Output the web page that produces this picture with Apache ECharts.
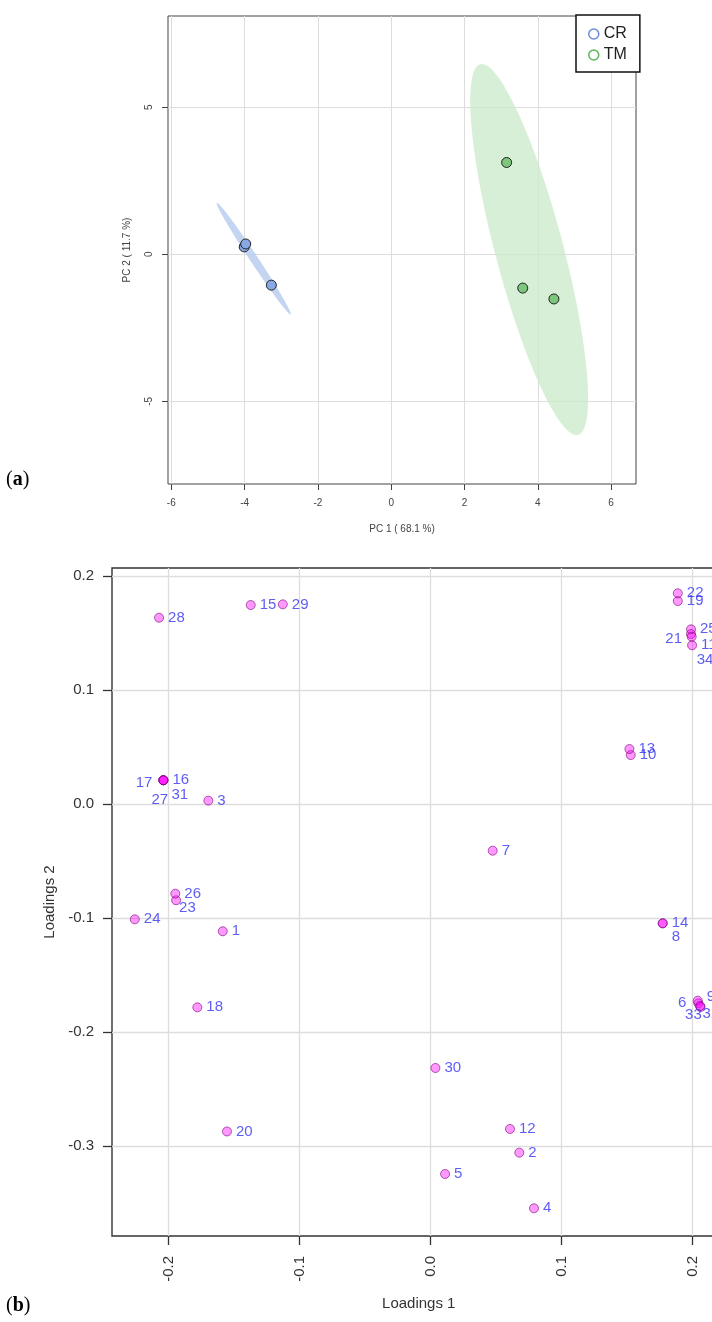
<!DOCTYPE html>
<html>
<head>
<meta charset="utf-8">
<script src="https://cdn.jsdelivr.net/npm/echarts@6/dist/echarts.min.js"></script>
<style>html,body{margin:0;padding:0;background:#fff}#c{width:712px;height:1322px}</style>
</head>
<body>
<div id="c"></div>
<script>
// ---------- (a) PCA score plot ----------
const crPC1 = [-4.01, -3.97, -3.27];
const crPC2 = [0.25, 0.35, -1.05];
const tmPC1 = [3.15, 3.59, 4.44];
const tmPC2 = [3.12, -1.15, -1.52];
const crEllipseCenter = [-3.75, -0.15];
const crEllipseAxisA = [1.01, -1.90];
const crEllipseAxisB = [0.09, 0.075];
const tmEllipseCenter = [3.765, 0.16];
const tmEllipseAxisA = [1.335, -6.30];
const tmEllipseAxisB = [0.897, 0.296];
const pcXTicks = [-6, -4, -2, 0, 2, 4, 6];
const pcYTicks = [-5, 0, 5];
const groupNames = ['CR', 'TM'];

// ---------- (b) Loadings plot ----------
const loadingIds = [1,2,3,4,5,6,7,8,9,10,11,12,13,14,15,16,17,18,19,20,21,22,23,24,25,26,27,28,29,30,31,32,33,34];
const loading1 = [-0.1585, 0.0677, -0.1695, 0.0789, 0.0111, 0.2043, 0.0474, 0.1771, 0.2038, 0.1527,
                  0.1995, 0.0606, 0.1517, 0.1771, -0.1372, -0.2038, -0.2038, -0.1779, 0.1886, -0.1553,
                  0.1987, 0.1886, -0.1941, -0.2256, 0.1987, -0.1947, -0.2038, -0.2071, -0.1127, 0.0037,
                  -0.2038, 0.2060, 0.2056, 0.1992];
const loading2 = [-0.1114, -0.3056, 0.0032, -0.3544, -0.3243, -0.1746, -0.0407, -0.1044, -0.1723, 0.0432,
                  0.1395, -0.2848, 0.0485, -0.1044, 0.1748, 0.0211, 0.0211, -0.1781, 0.1783, -0.2870,
                  0.1494, 0.1851, -0.0842, -0.1009, 0.1535, -0.0784, 0.0211, 0.1637, 0.1754, -0.2313,
                  0.0211, -0.1778, -0.1769, 0.1470];
const loadXTicks = [-0.2, -0.1, 0.0, 0.1, 0.2];
const loadYTicks = [-0.3, -0.2, -0.1, 0.0, 0.1, 0.2];

// label placement (style only)
const labelStyleById = {
  21: {position: 'left', offset: [0, 5]},
  6:  {position: 'left', offset: [-3, 0]},
  17: {position: 'left', offset: [-2, 3]},
  34: {position: 'right', offset: [-4, 23]},
  8:  {position: 'right', offset: [0, 14]},
  33: {position: 'right', offset: [-24, 9]},
  32: {position: 'right', offset: [-7, 7]},
  27: {position: 'right', offset: [-21, 20]},
  31: {position: 'right', offset: [-1, 15]},
  23: {position: 'right', offset: [-6, 8]},
  9:  {position: 'right', offset: [0, -4]}
};

const FONT = "'Liberation Sans', Arial, sans-serif";
const chart = echarts.init(document.getElementById('c'), null, {renderer: 'canvas'});

function zip(a, b) { return a.map((v, i) => [v, b[i]]); }

function ellipseSeries(name, center, A, B, color) {
  return {
    type: 'custom', name: name, xAxisIndex: 0, yAxisIndex: 0, silent: true, z: 1,
    data: [center],
    renderItem: function (params, api) {
      const pts = [];
      const n = 160;
      for (let i = 0; i <= n; i++) {
        const t = i / n * 2 * Math.PI;
        pts.push(api.coord([
          center[0] + A[0] * Math.cos(t) + B[0] * Math.sin(t),
          center[1] + A[1] * Math.cos(t) + B[1] * Math.sin(t)
        ]));
      }
      return {type: 'polygon', shape: {points: pts}, style: {fill: color}};
    }
  };
}

const loadData = loadingIds.map((id, i) => {
  const item = {value: [loading1[i], loading2[i], id]};
  if (labelStyleById[id]) item.label = labelStyleById[id];
  return item;
});

const option = {
  animation: false,
  backgroundColor: '#fff',
  textStyle: {fontFamily: FONT},
  grid: [
    {left: 168, top: 16, width: 468, height: 468, show: true, borderColor: '#444', borderWidth: 1, backgroundColor: 'transparent', outerBoundsMode: 'none', containLabel: false},
    {left: 112, top: 568, width: 613.5, height: 668, show: true, borderColor: '#333', borderWidth: 1.4, backgroundColor: 'transparent', outerBoundsMode: 'none', containLabel: false}
  ],
  xAxis: [
    {
      gridIndex: 0, type: 'value', min: -6.09, max: 6.68, position: 'bottom',
      name: 'PC 1 ( 68.1 %)', nameLocation: 'middle', nameGap: 40,
      nameTextStyle: {fontSize: 10, color: '#444', fontFamily: FONT},
      axisLine: {show: false, onZero: false},
      axisTick: {show: true, inside: false, length: 6, customValues: pcXTicks, lineStyle: {color: '#444'}},
      axisLabel: {customValues: pcXTicks, fontSize: 10, color: '#444', margin: 14, fontFamily: FONT},
      splitLine: {show: true, lineStyle: {color: '#dddddd', width: 1}}
    },
    {
      gridIndex: 1, type: 'value', min: -0.243, max: 0.225, position: 'bottom',
      name: 'Loadings 1', nameLocation: 'middle', nameGap: 60,
      nameTextStyle: {fontSize: 15, color: '#333', fontFamily: FONT},
      axisLine: {show: false, onZero: false},
      axisTick: {show: true, inside: false, length: 9, customValues: loadXTicks, lineStyle: {color: '#333', width: 1.3}},
      axisLabel: {customValues: loadXTicks, rotate: 90, fontSize: 15, color: '#333', margin: 20, fontFamily: FONT,
                  formatter: v => v.toFixed(1)},
      splitLine: {show: true, lineStyle: {color: '#dddddd', width: 1.3}}
    }
  ],
  yAxis: [
    {
      gridIndex: 0, type: 'value', min: -7.81, max: 8.1, position: 'left',
      name: 'PC 2 ( 11.7 %)', nameLocation: 'middle', nameGap: 36, nameRotate: 90,
      nameTextStyle: {fontSize: 10, color: '#444', fontFamily: FONT},
      axisLine: {show: false, onZero: false},
      axisTick: {show: true, inside: false, length: 6, customValues: pcYTicks, lineStyle: {color: '#444'}},
      axisLabel: {customValues: pcYTicks, rotate: 90, fontSize: 10, color: '#444', margin: 14, fontFamily: FONT},
      splitLine: {show: true, lineStyle: {color: '#dddddd', width: 1}}
    },
    {
      gridIndex: 1, type: 'value', min: -0.3787, max: 0.2073, position: 'left',
      name: 'Loadings 2', nameLocation: 'middle', nameGap: 48, nameRotate: 90,
      nameTextStyle: {fontSize: 15, color: '#333', fontFamily: FONT},
      axisLine: {show: false, onZero: false},
      axisTick: {show: true, inside: false, length: 9, customValues: loadYTicks, lineStyle: {color: '#333', width: 1.3}},
      axisLabel: {customValues: loadYTicks, fontSize: 15, color: '#333', margin: 18, fontFamily: FONT,
                  formatter: v => v.toFixed(1)},
      splitLine: {show: true, lineStyle: {color: '#dddddd', width: 1.3}}
    }
  ],
  legend: {
    left: 576, top: 15, orient: 'vertical',
    backgroundColor: '#fff', borderColor: '#111', borderWidth: 1.5, borderRadius: 0,
    padding: [11, 13, 9, 12], itemGap: 5, itemWidth: 10, itemHeight: 10,
    textStyle: {fontSize: 16, color: '#222', fontFamily: FONT},
    data: [
      {name: groupNames[0], icon: 'circle', itemStyle: {color: '#fff', borderColor: '#6a8fd8', borderWidth: 1.5}},
      {name: groupNames[1], icon: 'circle', itemStyle: {color: '#fff', borderColor: '#5cb85c', borderWidth: 1.5}}
    ],
    selectedMode: false
  },
  graphic: [
    {type: 'text', left: 6, top: 470, style: {text: '{n|(}{b|a}{n|)}', rich: {n: {fontSize: 20, fontFamily: "'Liberation Serif', serif", fill: '#000'}, b: {fontSize: 20, fontWeight: 'bold', fontFamily: "'Liberation Serif', serif", fill: '#000'}}}},
    {type: 'text', left: 6, top: 1296, style: {text: '{n|(}{b|b}{n|)}', rich: {n: {fontSize: 20, fontFamily: "'Liberation Serif', serif", fill: '#000'}, b: {fontSize: 20, fontWeight: 'bold', fontFamily: "'Liberation Serif', serif", fill: '#000'}}}}
  ],
  series: [
    ellipseSeries('CR region', crEllipseCenter, crEllipseAxisA, crEllipseAxisB, 'rgba(176,199,238,0.75)'),
    ellipseSeries('TM region', tmEllipseCenter, tmEllipseAxisA, tmEllipseAxisB, 'rgba(200,234,200,0.75)'),
    {
      type: 'scatter', name: groupNames[0], xAxisIndex: 0, yAxisIndex: 0, z: 3,
      symbol: 'circle', symbolSize: 10,
      itemStyle: {color: '#88a9e6', borderColor: '#222', borderWidth: 1, opacity: 1},
      data: zip(crPC1, crPC2)
    },
    {
      type: 'scatter', name: groupNames[1], xAxisIndex: 0, yAxisIndex: 0, z: 3,
      symbol: 'circle', symbolSize: 10,
      itemStyle: {color: '#7cc77c', borderColor: '#222', borderWidth: 1, opacity: 1},
      data: zip(tmPC1, tmPC2)
    },
    {
      type: 'scatter', name: 'loadings', xAxisIndex: 1, yAxisIndex: 1, z: 3,
      symbol: 'circle', symbolSize: 9,
      itemStyle: {color: 'rgba(255,0,255,0.5)', borderColor: 'rgba(120,0,120,0.75)', borderWidth: 1},
      label: {
        show: true, position: 'right', distance: 4,
        formatter: p => String(p.value[2]),
        fontSize: 15, color: '#3434f2', fontFamily: FONT
      },
      data: loadData
    }
  ]
};
chart.setOption(option);
</script>
</body>
</html>
